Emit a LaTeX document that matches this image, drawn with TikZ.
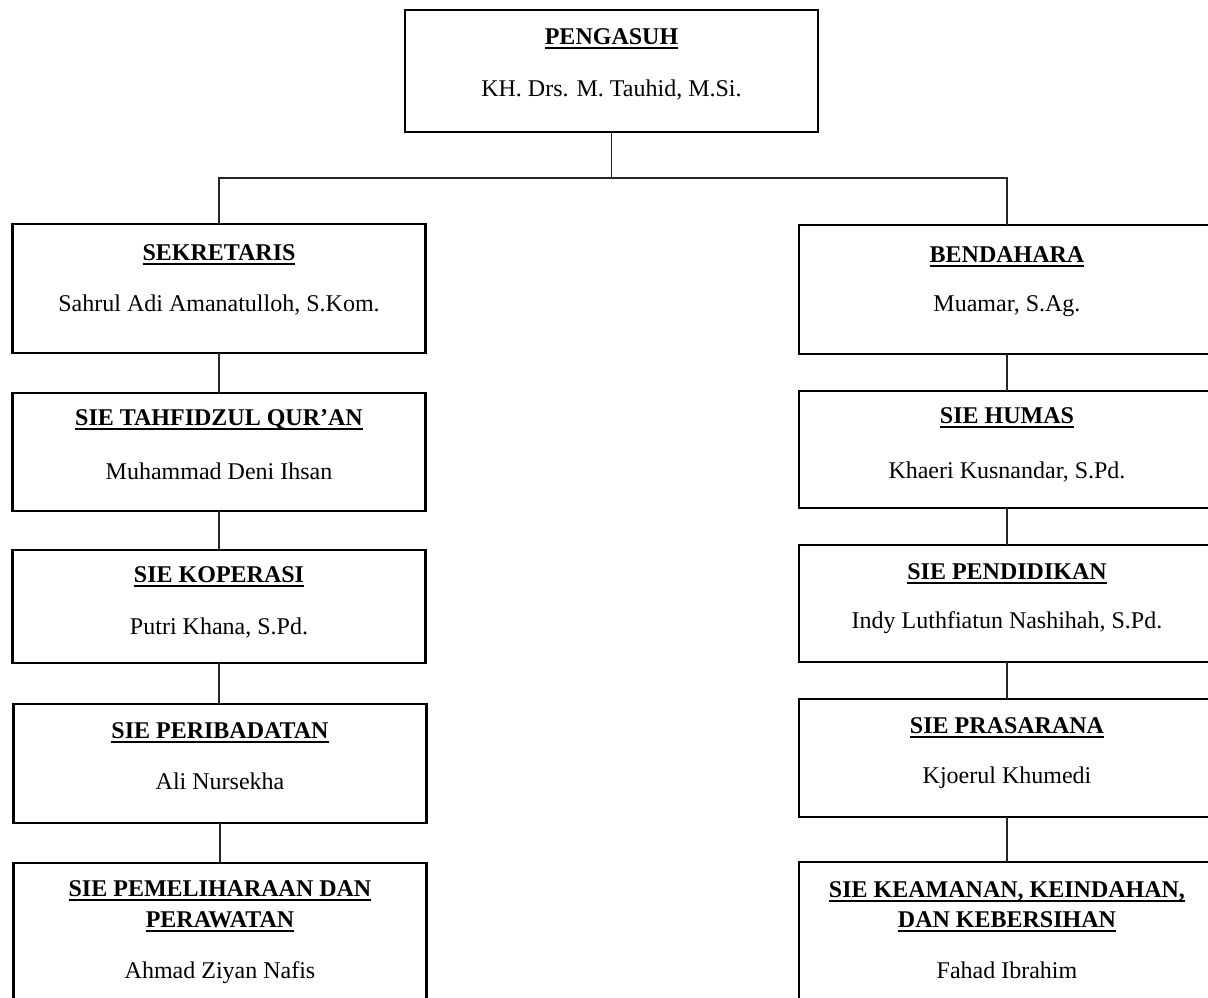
\documentclass[tikz,border=0pt]{standalone}
\usepackage{fontspec}
\setmainfont{Liberation Serif}
\newcommand{\myul}[1]{\setbox0=\hbox{#1}\rlap{\rule[-5pt]{\wd0}{2.2pt}}\box0}
\tikzset{
  orgbox/.style={draw=black, line width=2.2pt, rectangle, inner sep=0pt, outer sep=0pt},
  lbox/.style={orgbox, minimum width=413pt},
  rbox/.style={orgbox, minimum width=416pt},
  ttl/.style={anchor=base, inner sep=0pt, font=\fontsize{24}{31}\selectfont\bfseries, align=center},
  nm/.style={anchor=base, inner sep=0pt, font=\fontsize{24}{31}\selectfont},
  conn/.style={draw=black!85, line width=1.1pt}
}
\begin{document}
\begin{tikzpicture}[x=1pt,y=-1pt]
\useasboundingbox (0,0) rectangle (1208,997);
\clip (0,0) rectangle (1208,997);
% top
\node[orgbox, minimum width=413pt, minimum height=122pt] (top) at (611.5,71) {};
\node[ttl] (ttop) at (611.5,44) {\myul{PENGASUH}};
\node[nm] (ntop) at (611.5,96) {KH. Drs. M. Tauhid, M.Si.};
% left column
\node[lbox, minimum height=129pt] (sek) at (219,288.5) {};
\node[ttl] (tsek) at (219,260) {\myul{SEKRETARIS}};
\node[nm] (nsek) at (219,311) {Sahrul Adi Amanatulloh, S.Kom.};
\node[lbox, minimum height=118pt] (tah) at (219,452) {};
\node[ttl] (ttah) at (219,425) {\myul{SIE TAHFIDZUL QUR’AN}};
\node[nm] (ntah) at (219,479) {Muhammad Deni Ihsan};
\node[lbox, minimum height=113pt] (kop) at (219,606.5) {};
\node[ttl] (tkop) at (219,582) {\myul{SIE KOPERASI}};
\node[nm] (nkop) at (219,634) {Putri Khana, S.Pd.};
\node[lbox, minimum height=119pt] (per) at (220,763.5) {};
\node[ttl] (tper) at (220,738) {\myul{SIE PERIBADATAN}};
\node[nm] (nper) at (220,789) {Ali Nursekha};
\node[lbox, minimum height=180pt] (pem) at (220,953) {};
\node[ttl] (tpem1) at (220,896) {\myul{SIE PEMELIHARAAN DAN}};
\node[ttl] (tpem2) at (220,927) {\myul{PERAWATAN}};
\node[nm] (npem) at (220,978) {Ahmad Ziyan Nafis};
% right column
\node[rbox, minimum height=129pt] (ben) at (1007,289.5) {};
\node[ttl] (tben) at (1007,262) {\myul{BENDAHARA}};
\node[nm] (nben) at (1007,311) {Muamar, S.Ag.};
\node[rbox, minimum height=117pt] (hum) at (1007,449.5) {};
\node[ttl] (thum) at (1007,423) {\myul{SIE HUMAS}};
\node[nm] (nhum) at (1007,478) {Khaeri Kusnandar, S.Pd.};
\node[rbox, minimum height=117pt] (pen) at (1007,603.5) {};
\node[ttl] (tpen) at (1007,579) {\myul{SIE PENDIDIKAN}};
\node[nm] (npen) at (1007,628) {Indy Luthfiatun Nashihah, S.Pd.};
\node[rbox, minimum height=118pt] (pra) at (1007,758) {};
\node[ttl] (tpra) at (1007,733) {\myul{SIE PRASARANA}};
\node[nm] (npra) at (1007,783) {Kjoerul Khumedi};
\node[rbox, minimum height=180pt] (kea) at (1007,952) {};
\node[ttl] (tkea1) at (1007,897) {\myul{SIE KEAMANAN, KEINDAHAN,}};
\node[ttl] (tkea2) at (1007,927) {\myul{DAN KEBERSIHAN}};
\node[nm] (nkea) at (1007,978) {Fahad Ibrahim};
% connectors
\coordinate (junc) at (611.5,178);
\draw[conn] (top.south) -- (junc);
\draw[conn] (sek.north) |- (junc) -| (ben.north);
\draw[conn] (sek.south) -- (tah.north);
\draw[conn] (tah.south) -- (kop.north);
\draw[conn] (kop.south) -- (kop.south |- per.north);
\draw[conn] (per.south) -- (pem.north);
\draw[conn] (ben.south) -- (hum.north);
\draw[conn] (hum.south) -- (pen.north);
\draw[conn] (pen.south) -- (pra.north);
\draw[conn] (pra.south) -- (kea.north);
\end{tikzpicture}
\end{document}
